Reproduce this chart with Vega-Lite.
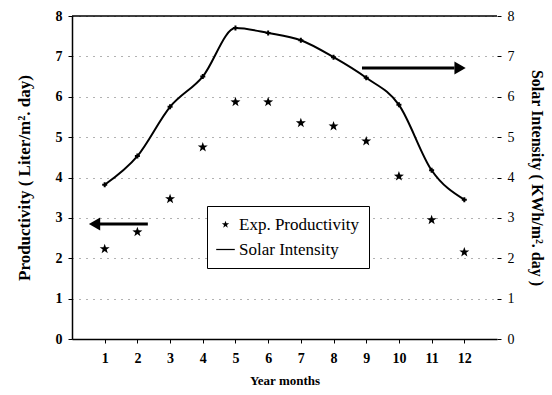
{
  "$schema": "https://vega.github.io/schema/vega-lite/v6.json",
  "autosize": "none",
  "width": 425,
  "height": 323,
  "padding": {"left": 72, "top": 16, "right": 55, "bottom": 56},
  "background": "white",
  "config": {
    "view": {"stroke": null},
    "font": "Liberation Serif",
    "axis": {"domainColor": "black", "tickColor": "black", "labelColor": "black", "titleColor": "black"},
    "axisX": {"labelOverlap": false, "labelSeparation": 0, "labelBound": false}
  },
  "layer": [
    {
      "data": {"values": [
        {"month": 1, "value": 2.23, "series": "Exp. Productivity"},
        {"month": 2, "value": 2.65, "series": "Exp. Productivity"},
        {"month": 3, "value": 3.47, "series": "Exp. Productivity"},
        {"month": 4, "value": 4.75, "series": "Exp. Productivity"},
        {"month": 5, "value": 5.87, "series": "Exp. Productivity"},
        {"month": 6, "value": 5.87, "series": "Exp. Productivity"},
        {"month": 7, "value": 5.35, "series": "Exp. Productivity"},
        {"month": 8, "value": 5.27, "series": "Exp. Productivity"},
        {"month": 9, "value": 4.9, "series": "Exp. Productivity"},
        {"month": 10, "value": 4.03, "series": "Exp. Productivity"},
        {"month": 11, "value": 2.95, "series": "Exp. Productivity"},
        {"month": 12, "value": 2.15, "series": "Exp. Productivity"}
      ]},
      "mark": {"type": "point", "filled": true, "color": "black", "size": 110, "opacity": 1},
      "encoding": {
        "x": {
          "field": "month", "type": "quantitative",
          "scale": {"domain": [0, 13], "nice": false},
          "axis": {
            "orient": "bottom",
            "values": [1, 2, 3, 4, 5, 6, 7, 8, 9, 10, 11, 12],
            "tickCount": 14,
            "labelOverlap": false,
            "title": "Year months", "titleFont": "Liberation Serif", "titleFontSize": 13, "titleFontWeight": "bold", "titlePadding": 9,
            "labelFont": "Liberation Serif", "labelFontSize": 14, "labelFontWeight": "bold", "labelPadding": 8,
            "tickSize": 4, "grid": false, "domainWidth": 1.5
          }
        },
        "y": {
          "field": "value", "type": "quantitative",
          "scale": {"domain": [0, 8], "nice": false},
          "axis": {
            "orient": "left",
            "values": [0, 1, 2, 3, 4, 5, 6, 7, 8],
            "tickCount": 10,
            "title": "Productivity   ( Liter/m². day)", "titleFont": "Liberation Serif", "titleFontSize": 17, "titleFontWeight": "bold", "titlePadding": 22,
            "labelFont": "Liberation Serif", "labelFontSize": 14, "labelFontWeight": "bold", "labelPadding": 6,
            "tickSize": 4, "domainWidth": 1.5,
            "grid": true, "gridDash": [1, 6], "gridColor": "#666", "gridWidth": 1.2
          }
        },
        "shape": {
          "field": "series", "type": "nominal",
          "scale": {
            "domain": ["Exp. Productivity", "Solar Intensity"],
            "range": [
              "M0,-1L0.235,-0.324L0.951,-0.309L0.38,0.124L0.588,0.809L0,0.4L-0.588,0.809L-0.38,0.124L-0.951,-0.309L-0.235,-0.324Z",
              "M-2.4,-0.16L2.4,-0.16L2.4,0.16L-2.4,0.16Z"
            ]
          },
          "legend": {
            "title": null, "orient": "none", "legendX": 135, "legendY": 190,
            "strokeColor": "black", "padding": 10, "fillColor": "white",
            "labelFont": "Liberation Serif", "labelFontSize": 17, "labelColor": "black",
            "symbolSize": 60, "symbolFillColor": "black", "symbolStrokeWidth": 0,
            "rowPadding": 7, "labelOffset": 5
          }
        }
      }
    },
    {
      "data": {"values": [
        {"month": 1, "value": 3.82},
        {"month": 2, "value": 4.53},
        {"month": 3, "value": 5.75},
        {"month": 4, "value": 6.5},
        {"month": 5, "value": 7.7},
        {"month": 6, "value": 7.58},
        {"month": 7, "value": 7.4},
        {"month": 8, "value": 6.98},
        {"month": 9, "value": 6.47},
        {"month": 10, "value": 5.8},
        {"month": 11, "value": 4.18},
        {"month": 12, "value": 3.45}
      ]},
      "mark": {"type": "line", "color": "black", "strokeWidth": 2, "interpolate": "monotone", "point": {"shape": "cross", "filled": true, "color": "black", "size": 25}},
      "encoding": {
        "x": {"field": "month", "type": "quantitative", "scale": {"domain": [0, 13], "nice": false}},
        "y": {
          "field": "value", "type": "quantitative",
          "scale": {"domain": [0, 8], "nice": false},
          "axis": {
            "orient": "right",
            "values": [0, 1, 2, 3, 4, 5, 6, 7, 8],
            "tickCount": 10,
            "title": "Solar Intensity ( KWh/m². day )", "titleFont": "Liberation Serif", "titleFontSize": 16, "titleFontWeight": "bold", "titlePadding": 14,
            "labelFont": "Liberation Serif", "labelFontSize": 14, "labelFontWeight": "normal", "labelPadding": 6,
            "tickSize": 4, "domain": false, "grid": false
          }
        }
      }
    },
    {
      "data": {"values": [
        {"from": 0, "to": 13, "level": 8}
      ]},
      "mark": {"type": "rule", "color": "black", "strokeWidth": 1.5},
      "encoding": {
        "x": {"field": "from", "type": "quantitative"},
        "x2": {"field": "to"},
        "y": {"field": "level", "type": "quantitative", "scale": {"domain": [0, 8]}, "axis": null}
      }
    },
    {
      "data": {"values": [
        {"from": 2.32, "to": 0.8, "level": 2.85},
        {"from": 8.87, "to": 11.7, "level": 6.71}
      ]},
      "mark": {"type": "rule", "color": "black", "strokeWidth": 3},
      "encoding": {
        "x": {"field": "from", "type": "quantitative"},
        "x2": {"field": "to"},
        "y": {"field": "level", "type": "quantitative", "scale": {"domain": [0, 8]}, "axis": null}
      }
    },
    {
      "data": {"values": [
        {"head": 0.69, "level": 2.85, "tip": "triangle-left"},
        {"head": 11.87, "level": 6.71, "tip": "triangle-right"}
      ]},
      "mark": {"type": "point", "filled": true, "color": "black", "size": 170, "opacity": 1},
      "encoding": {
        "x": {"field": "head", "type": "quantitative"},
        "y": {"field": "level", "type": "quantitative", "scale": {"domain": [0, 8]}, "axis": null},
        "shape": {"field": "tip", "type": "nominal", "scale": null}
      }
    }
  ],
  "resolve": {"scale": {"y": "independent"}}
}
